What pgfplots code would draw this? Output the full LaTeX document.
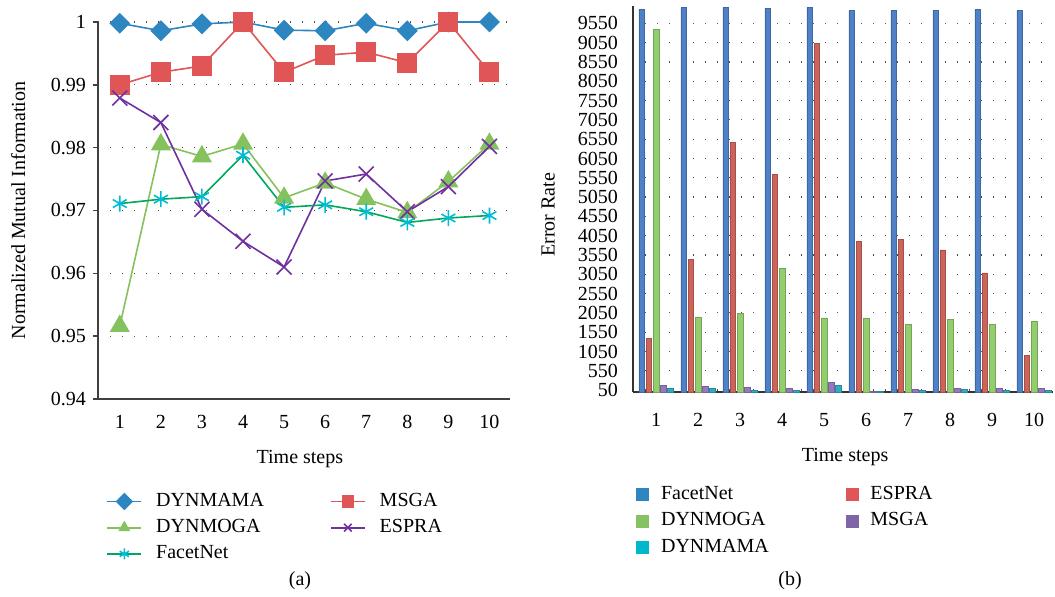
\documentclass[border=0pt]{standalone}
\usepackage{fontspec}
\setmainfont{Liberation Serif}
\usepackage{pgfplots}
\pgfplotsset{compat=1.18}
\definecolor{cDYNMAMA}{RGB}{46,134,193}
\definecolor{cMSGA}{RGB}{224,85,85}
\definecolor{cDYNMOGA}{RGB}{133,194,93}
\definecolor{cFacetM}{RGB}{0,188,212}
\definecolor{cFacetL}{RGB}{0,168,90}
\definecolor{cESPRA}{RGB}{112,48,160}
\definecolor{bFacet}{RGB}{79,129,200}
\definecolor{bESPRA}{RGB}{205,100,90}
\definecolor{bDYNMOGA}{RGB}{146,205,110}
\definecolor{bMSGA}{RGB}{150,120,190}
\definecolor{bDYNMAMA}{RGB}{50,170,195}
\definecolor{lFacet}{RGB}{46,134,193}
\definecolor{lESPRA}{RGB}{224,85,85}
\definecolor{lDYNMOGA}{RGB}{132,194,98}
\definecolor{lMSGA}{RGB}{128,100,168}
\definecolor{lDYNMAMA}{RGB}{0,184,204}
\pgfplotsset{
  dotgrid/.style={major grid style={line width=0.6pt, dash pattern=on 0.6pt off 5.4pt, color=black!70}},
}
\begin{document}
\begin{tikzpicture}
\useasboundingbox (0,0) rectangle (527.5pt,298.5pt);
% ---------------- (a)
\begin{axis}[
  at={(49pt,99pt)}, anchor=south west,
  width=206pt, height=188.5pt, scale only axis,
  xmin=0.47, xmax=10.5, ymin=0.94, ymax=1.0,
  axis x line*=bottom, axis y line*=left,
  axis line style={black!75, line width=0.8pt},
  xtick={1,...,10}, ytick={0.94,0.95,0.96,0.97,0.98,0.99,1},
  yticklabel style={/pgf/number format/fixed, /pgf/number format/precision=2},
  /pgf/number format/assume math mode=true,
  xtick style={draw=none}, ytick style={black!75, line width=0.8pt},
  tick align=outside, major tick length=2.5pt,
  xticklabel style={yshift=-2pt},
  ymajorgrids, dotgrid,
  clip=false,
  xlabel={Time steps}, ylabel={Normalized Mutual Information},
  xlabel style={at={(axis description cs:0.49,-0.159)}, anchor=center},
  ylabel style={at={(axis description cs:-0.194,0.5)}, anchor=center},
  every legend image post/.append style={mark size=2.7pt},
  legend columns=2,
  legend cell align=left,
  legend style={draw=none, fill=none, at={(axis description cs:0.005,-0.228)}, anchor=north west,
    /tikz/every odd column/.append style={column sep=5pt},
    /tikz/every even column/.append style={column sep=31pt}, row sep=1pt},
]
\addplot[color=cDYNMAMA, line width=0.8pt, mark=square*, mark size=3.3pt, mark options={rotate=45, fill=cDYNMAMA, draw=cDYNMAMA}]
 coordinates {(1,0.9998)(2,0.9986)(3,0.9997)(4,1.0)(5,0.9987)(6,0.9986)(7,0.9998)(8,0.9986)(9,1.0)(10,1.0)};
\addlegendentry{DYNMAMA}
\addplot[color=cMSGA, line width=0.8pt, mark=square*, mark size=4.6pt, mark options={fill=cMSGA, draw=cMSGA}]
 coordinates {(1,0.990)(2,0.992)(3,0.993)(4,1.0)(5,0.992)(6,0.9947)(7,0.9952)(8,0.9935)(9,1.0)(10,0.992)};
\addlegendentry{MSGA}
\addplot[color=cDYNMOGA, line width=0.8pt, mark=triangle*, mark size=5pt, mark options={fill=cDYNMOGA, draw=cDYNMOGA}]
 coordinates {(1,0.9516)(2,0.9805)(3,0.9786)(4,0.9806)(5,0.9720)(6,0.9744)(7,0.9718)(8,0.9697)(9,0.9746)(10,0.9806)};
\addlegendentry{DYNMOGA}
\addplot[color=cESPRA, line width=0.8pt, mark=x, mark size=5.3pt]
 coordinates {(1,0.9879)(2,0.9840)(3,0.9702)(4,0.9651)(5,0.9610)(6,0.9747)(7,0.9758)(8,0.9698)(9,0.9738)(10,0.9802)};
\addlegendentry{ESPRA}
\addplot[color=cFacetL, line width=0.8pt, mark=asterisk, mark size=4pt, mark options={cFacetM, line width=0.8pt}]
 coordinates {(1,0.9711)(2,0.9718)(3,0.9722)(4,0.9788)(5,0.9705)(6,0.9709)(7,0.9698)(8,0.9681)(9,0.9688)(10,0.9692)};
\addlegendentry{FacetNet}
\end{axis}
% ---------------- (b)
\begin{axis}[
  at={(316.5pt,102.5pt)}, anchor=south west,
  width=210pt, height=193pt, scale only axis,
  xmin=0.45, xmax=10.45, ymin=0, ymax=10000,
  ybar=0.8pt, bar width=2.8pt,
  axis x line*=bottom, axis y line*=left,
  axis line style={black!80, line width=0.8pt},
  xtick={1,...,10}, ytick={50,550,...,9550},
  scaled y ticks=false,
  yticklabel style={/pgf/number format/fixed, /pgf/number format/set thousands separator={}, /pgf/number format/precision=0},
  /pgf/number format/assume math mode=true,
  xtick style={draw=none}, ytick style={draw=none},
  xticklabel style={yshift=-3pt},
  yticklabel style={xshift=-4pt},
  ymajorgrids, dotgrid,
  clip=false,
  xlabel={Time steps}, ylabel={Error Rate},
  xlabel style={at={(axis description cs:0.505,-0.168)}, anchor=center},
  ylabel style={at={(axis description cs:-0.202,0.459)}, anchor=center},
  legend columns=2,
  legend cell align=left,
  legend style={draw=none, fill=none, at={(axis description cs:-0.007,-0.223)}, anchor=north west,
    /tikz/every odd column/.append style={column sep=4pt},
    /tikz/every even column/.append style={column sep=36.5pt}, row sep=1pt},
]
\addplot[fill=bFacet, draw=bFacet!80!black, line width=0.3pt,
  legend image code/.code={\fill[lFacet] (0pt,-3pt) rectangle (6pt,3pt);}]
 coordinates {(1,9920)(2,9965)(3,9965)(4,9940)(5,9970)(6,9895)(7,9895)(8,9895)(9,9910)(10,9895)};
\addlegendentry{FacetNet}
\addplot[fill=bESPRA, draw=bESPRA!80!black, line width=0.3pt,
  legend image code/.code={\fill[lESPRA] (0pt,-3pt) rectangle (6pt,3pt);}]
 coordinates {(1,1390)(2,3445)(3,6460)(4,5645)(5,9030)(6,3895)(7,3950)(8,3680)(9,3085)(10,955)};
\addlegendentry{ESPRA}
\addplot[fill=bDYNMOGA, draw=bDYNMOGA!80!black, line width=0.3pt,
  legend image code/.code={\fill[lDYNMOGA] (0pt,-3pt) rectangle (6pt,3pt);}]
 coordinates {(1,9395)(2,1940)(3,2030)(4,3195)(5,1920)(6,1910)(7,1755)(8,1885)(9,1750)(10,1835)};
\addlegendentry{DYNMOGA}
\addplot[fill=bMSGA, draw=bMSGA!80!black, line width=0.3pt,
  legend image code/.code={\fill[lMSGA] (0pt,-3pt) rectangle (6pt,3pt);}]
 coordinates {(1,170)(2,135)(3,110)(4,95)(5,250)(6,20)(7,70)(8,100)(9,85)(10,95)};
\addlegendentry{MSGA}
\addplot[fill=bDYNMAMA, draw=bDYNMAMA!80!black, line width=0.3pt,
  legend image code/.code={\fill[lDYNMAMA] (0pt,-3pt) rectangle (6pt,3pt);}]
 coordinates {(1,85)(2,85)(3,50)(4,50)(5,170)(6,10)(7,50)(8,60)(9,50)(10,50)};
\addlegendentry{DYNMAMA}
\end{axis}
\node at (150pt,8pt) {(a)};
\node at (395pt,8pt) {(b)};
\end{tikzpicture}
\end{document}
